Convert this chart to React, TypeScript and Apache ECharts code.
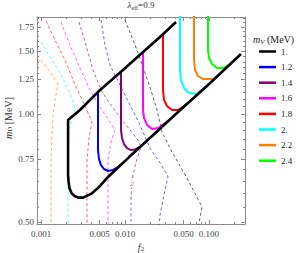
import React, { useEffect, useRef } from "react";
import * as echarts from "echarts";

// ---- legend / colours ----
const legendNames = ["1.", "1.2", "1.4", "1.6", "1.8", "2.", "2.2", "2.4"];
const solidColors = ["#000000", "#0000FF", "#800080", "#FF00FF", "#FF0000", "#00FFFF", "#FF8000", "#00FF00"];

// ---- ticks ----
const xMajorTicks = [0.001, 0.005, 0.01, 0.05, 0.1];
const xMinorTicks = [0.002, 0.003, 0.004, 0.006, 0.007, 0.008, 0.009, 0.02, 0.03, 0.04, 0.06, 0.07, 0.08, 0.09, 0.2];
const yMajorTicks = [0.5, 0.75, 1.0, 1.25, 1.5, 1.75];
const yMinorTicks = [0.55, 0.6, 0.65, 0.7, 0.8, 0.85, 0.9, 0.95, 1.05, 1.1, 1.15, 1.2, 1.3, 1.35, 1.4, 1.45, 1.55, 1.6, 1.65, 1.7, 1.8, 1.85];
const xRange = [0.000896, 0.2683];
const yRange = [0.4937, 1.867];

// ---- solid curves (m_V) : f2 and m_D ----
const black_f2 = [0.0405, 0.0261, 0.0164, 0.00947, 0.00504, 0.00291, 0.0021, 0.0021, 0.0021, 0.00213, 0.00218, 0.00231, 0.00251, 0.00276, 0.00316, 0.00394, 0.00477, 0.00628, 0.0112, 0.0198, 0.0428, 0.0973, 0.24];
const black_mD = [1.808, 1.642, 1.491, 1.328, 1.168, 1.027, 0.963, 0.794, 0.676, 0.647, 0.622, 0.602, 0.591, 0.585, 0.585, 0.599, 0.622, 0.668, 0.759, 0.858, 1.014, 1.206, 1.472];
const blue_f2 = [0.00477, 0.00477, 0.0049, 0.00518, 0.00562, 0.00628, 0.0072, 0.00825, 0.00973];
const blue_mD = [1.146, 0.794, 0.75, 0.721, 0.703, 0.694, 0.699, 0.712, 0.735];
const purple_f2 = [0.00896, 0.00896, 0.00921, 0.00973, 0.01056, 0.01179, 0.01315, 0.01509];
const purple_mD = [1.311, 0.903, 0.858, 0.825, 0.804, 0.794, 0.797, 0.81];
const magenta_f2 = [0.0164, 0.0164, 0.01683, 0.01828, 0.02096, 0.02471, 0.02912, 0.0325];
const magenta_mD = [1.491, 1.027, 0.976, 0.933, 0.909, 0.915, 0.939, 0.957];
const red_f2 = [0.02834, 0.02834, 0.02912, 0.03162, 0.03627, 0.0428, 0.0504, 0.05623];
const red_mD = [1.674, 1.168, 1.095, 1.054, 1.027, 1.027, 1.054, 1.074];
const cyan_f2 = [0.04517, 0.04517, 0.04642, 0.0504, 0.05779, 0.07, 0.08254, 0.08962];
const cyan_mD = [1.9, 1.328, 1.245, 1.183, 1.146, 1.138, 1.168, 1.183];
const orange_f2 = [0.06628, 0.06628, 0.06813, 0.07396, 0.08483, 0.0973, 0.1147];
const orange_mD = [1.9, 1.416, 1.328, 1.278, 1.253, 1.253, 1.253];
const green_f2 = [0.0973, 0.0973, 0.1, 0.1086, 0.1245, 0.1468, 0.173, 0.1879];
const green_mD = [1.9, 1.51, 1.435, 1.38, 1.345, 1.345, 1.371, 1.398];

// ---- dashed curves ----
const dOrange_f2 = [0.001, 0.00128, 0.001594, 0.001468, 0.001389, 0.001352, 0.001315, 0.001315];
const dOrange_mD = [1.416, 1.311, 1.214, 1.095, 0.995, 0.875, 0.745, 0.48];
const dCyan_f2 = [0.001, 0.00128, 0.001594, 0.001931, 0.002339, 0.00254, 0.002339, 0.002154, 0.0021, 0.0021];
const dCyan_mD = [1.59, 1.444, 1.328, 1.229, 1.109, 1.04, 0.976, 0.903, 0.794, 0.48];
const dRed_f2 = [0.001147, 0.001468, 0.001931, 0.00261, 0.003434, 0.004047, 0.003728, 0.003528, 0.003528];
const dRed_mD = [1.82, 1.61, 1.416, 1.191, 1.04, 0.951, 0.858, 0.745, 0.48];
const dMagenta_f2 = [0.00173, 0.00221, 0.00291, 0.003831, 0.00504, 0.006628, 0.007603, 0.006813, 0.00628, 0.00628];
const dMagenta_mD = [1.808, 1.56, 1.345, 1.168, 1.047, 0.951, 0.903, 0.836, 0.754, 0.48];
const dPurple_f2 = [0.00283, 0.003434, 0.004159, 0.005323, 0.0072, 0.01028, 0.01428, 0.01551, 0.01352, 0.01245, 0.01179, 0.01179];
const dPurple_mD = [1.808, 1.56, 1.328, 1.153, 1.04, 0.933, 0.847, 0.81, 0.735, 0.676, 0.595, 0.48];
const dBlue_f2 = [0.00518, 0.005779, 0.006628, 0.008719, 0.01147, 0.01509, 0.0198, 0.0261, 0.0325, 0.02912, 0.0261, 0.0254];
const dBlue_mD = [1.831, 1.56, 1.371, 1.206, 1.061, 0.933, 0.804, 0.731, 0.672, 0.595, 0.523, 0.48];
const dGray_f2 = [0.01, 0.01389, 0.0198, 0.02404, 0.02757, 0.03627, 0.05472, 0.08254, 0.07396];
const dGray_mD = [1.831, 1.51, 1.191, 1.027, 0.892, 0.784, 0.663, 0.551, 0.48];
// contour label on the purple dashed line
const contourLabel = { text: "2", f2: 0.0121, mD: 0.638 };

const SERIF = "'Liberation Serif', 'DejaVu Serif', serif";
const FRAME = "#8a8a8a";

export default function App() {
  const ref = useRef<HTMLDivElement>(null);
  useEffect(() => {
    const chart = echarts.init(ref.current!, null, { renderer: "svg" });
    const L = (v: number) => Math.log10(v);
    const pts = (f: number[], m: number[]) => f.map((v, i) => [L(v), L(m[i])]);

    const solid = [
      [black_f2, black_mD], [blue_f2, blue_mD], [purple_f2, purple_mD], [magenta_f2, magenta_mD],
      [red_f2, red_mD], [cyan_f2, cyan_mD], [orange_f2, orange_mD], [green_f2, green_mD],
    ];
    const dashed = [
      ["#000000", dGray_f2, dGray_mD], ["#0000FF", dBlue_f2, dBlue_mD], ["#800080", dPurple_f2, dPurple_mD],
      ["#FF00FF", dMagenta_f2, dMagenta_mD], ["#FF0000", dRed_f2, dRed_mD], ["#00FFFF", dCyan_f2, dCyan_mD],
      ["#FF8000", dOrange_f2, dOrange_mD],
    ] as [string, number[], number[]][];

    const series: any[] = [];
    dashed.forEach(([c, f, m], i) => {
      const s: any = {
        type: "line", name: "dash" + i, data: pts(f, m), showSymbol: false, symbol: "none",
        lineStyle: { color: c, width: 1, type: [3, 2.5], opacity: 0.62 },
        itemStyle: { color: c }, silent: true, z: 2,
      };
      if (c === "#800080") {
        s.markPoint = {
          silent: true, symbol: "rect", symbolSize: [5, 7], itemStyle: { color: "#ffffff" },
          label: { show: true, position: "inside", formatter: contourLabel.text, color: "#a050a8", fontFamily: SERIF, fontSize: 7, fontStyle: "italic" },
          data: [{ coord: [L(contourLabel.f2), L(contourLabel.mD)] }],
        };
      }
      series.push(s);
    });
    for (let i = solid.length - 1; i >= 0; i--) {
      const [f, m] = solid[i];
      series.push({
        type: "line", name: legendNames[i], data: pts(f, m), showSymbol: false, symbol: "none",
        lineStyle: { color: solidColors[i], width: i === 0 ? 2.6 : 2 },
        itemStyle: { color: solidColors[i] }, z: i === 0 ? 5 : 3,
      });
    }

    const xMin = L(xRange[0]), xMax = L(xRange[1]);
    const yMin = L(yRange[0]), yMax = L(yRange[1]);
    const tickStyle = { color: FRAME, width: 1 };
    const richSub = (fs: number) => ({
      i: { fontStyle: "italic", fontSize: fs, fontFamily: SERIF, lineHeight: 10, color: "#333" },
      s: { fontSize: 7, fontFamily: SERIF, lineHeight: 6, verticalAlign: "bottom", color: "#333" },
    });

    const xAx = (position: string, ticks: number[], len: number, main: boolean, labels: boolean) => ({
      type: "value", position, min: xMin, max: xMax, gridIndex: 0,
      axisLine: { show: main, onZero: false, lineStyle: { color: FRAME, width: 1 } },
      axisTick: { show: true, inside: true, length: len, customValues: ticks.map(L), lineStyle: tickStyle },
      axisLabel: labels
        ? { show: true, customValues: ticks.map(L), formatter: (v: number) => Math.pow(10, v).toFixed(3), fontFamily: SERIF, fontSize: 9, color: "#444", margin: 5 }
        : { show: false },
      splitLine: { show: false },
      ...(labels ? {
        name: "{i|f}{s|2}", nameLocation: "middle", nameGap: 15,
        nameTextStyle: { fontFamily: SERIF, fontSize: 10, color: "#333", lineHeight: 10, rich: richSub(10) },
      } : {}),
    });
    const yAx = (position: string, ticks: number[], len: number, main: boolean, labels: boolean) => ({
      type: "value", position, min: yMin, max: yMax, gridIndex: 0,
      axisLine: { show: main, onZero: false, lineStyle: { color: FRAME, width: 1 } },
      axisTick: { show: true, inside: true, length: len, customValues: ticks.map(L), lineStyle: tickStyle },
      axisLabel: labels
        ? { show: true, customValues: ticks.map(L), formatter: (v: number) => Math.pow(10, v).toFixed(2), fontFamily: SERIF, fontSize: 9, color: "#444", margin: 3 }
        : { show: false },
      splitLine: { show: false },
    });

    const option: any = {
      animation: false,
      backgroundColor: "#ffffff",
      grid: { left: 37, right: 55, top: 17, bottom: 29, containLabel: false, outerBoundsMode: "none" },
      xAxis: [
        xAx("bottom", xMajorTicks, 4, true, true),
        xAx("bottom", xMinorTicks, 2, false, false),
        xAx("top", xMajorTicks, 4, true, false),
        xAx("top", xMinorTicks, 2, false, false),
      ],
      yAxis: [
        yAx("left", yMajorTicks, 4, true, true),
        yAx("left", yMinorTicks, 2, false, false),
        yAx("right", yMajorTicks, 4, true, false),
        yAx("right", yMinorTicks, 2, false, false),
      ],
      legend: {
        data: legendNames, orient: "vertical", left: 259, top: 46.5, padding: 0,
        itemWidth: 17, itemHeight: 2.5, itemGap: 5.6, icon: "rect",
        textStyle: { fontFamily: SERIF, fontSize: 9, lineHeight: 10, color: "#222" },
        selectedMode: false,
      },
      graphic: [
        {
          type: "text", x: 141, y: 5,
          style: {
            text: "{i|λ}{s|eff}{n|=0.9}", align: "center", verticalAlign: "middle",
            fontFamily: SERIF, fontSize: 9, fill: "#333",
            rich: {
              i: { fontFamily: SERIF, fontSize: 9, fontStyle: "italic", lineHeight: 11, fill: "#333" },
              s: { fontFamily: SERIF, fontSize: 6, lineHeight: 6, verticalAlign: "bottom", fill: "#333" },
              n: { fontFamily: SERIF, fontSize: 9, lineHeight: 11, fill: "#333" },
            },
          },
        },
        {
          type: "text", x: 8, y: 118, rotation: Math.PI / 2,
          style: {
            text: "{i|m}{s|D}{n| [MeV]}", align: "center", verticalAlign: "middle",
            fontFamily: SERIF, fontSize: 10, fill: "#333",
            rich: {
              i: { fontFamily: SERIF, fontSize: 10, fontStyle: "italic", lineHeight: 10, fill: "#333" },
              s: { fontFamily: SERIF, fontSize: 7, lineHeight: 6, verticalAlign: "bottom", fill: "#333" },
              n: { fontFamily: SERIF, fontSize: 10, lineHeight: 10, fill: "#333" },
            },
          },
        },
        {
          type: "text", x: 253, y: 39,
          style: {
            text: "{i|m}{s|V}{n| (MeV)}", align: "left", verticalAlign: "middle",
            fontFamily: SERIF, fontSize: 10, fill: "#222",
            rich: {
              i: { fontFamily: SERIF, fontSize: 10, fontStyle: "italic", lineHeight: 12, fill: "#222" },
              s: { fontFamily: SERIF, fontSize: 7, fontStyle: "italic", lineHeight: 7, verticalAlign: "bottom", fill: "#222" },
              n: { fontFamily: SERIF, fontSize: 10, lineHeight: 12, fill: "#222" },
            },
          },
        },
      ],
      series,
    };
    chart.setOption(option);
    return () => chart.dispose();
  }, []);
  return <div ref={ref} style={{ position: "absolute", left: 0, top: 0, width: 300, height: 253 }} />;
}
